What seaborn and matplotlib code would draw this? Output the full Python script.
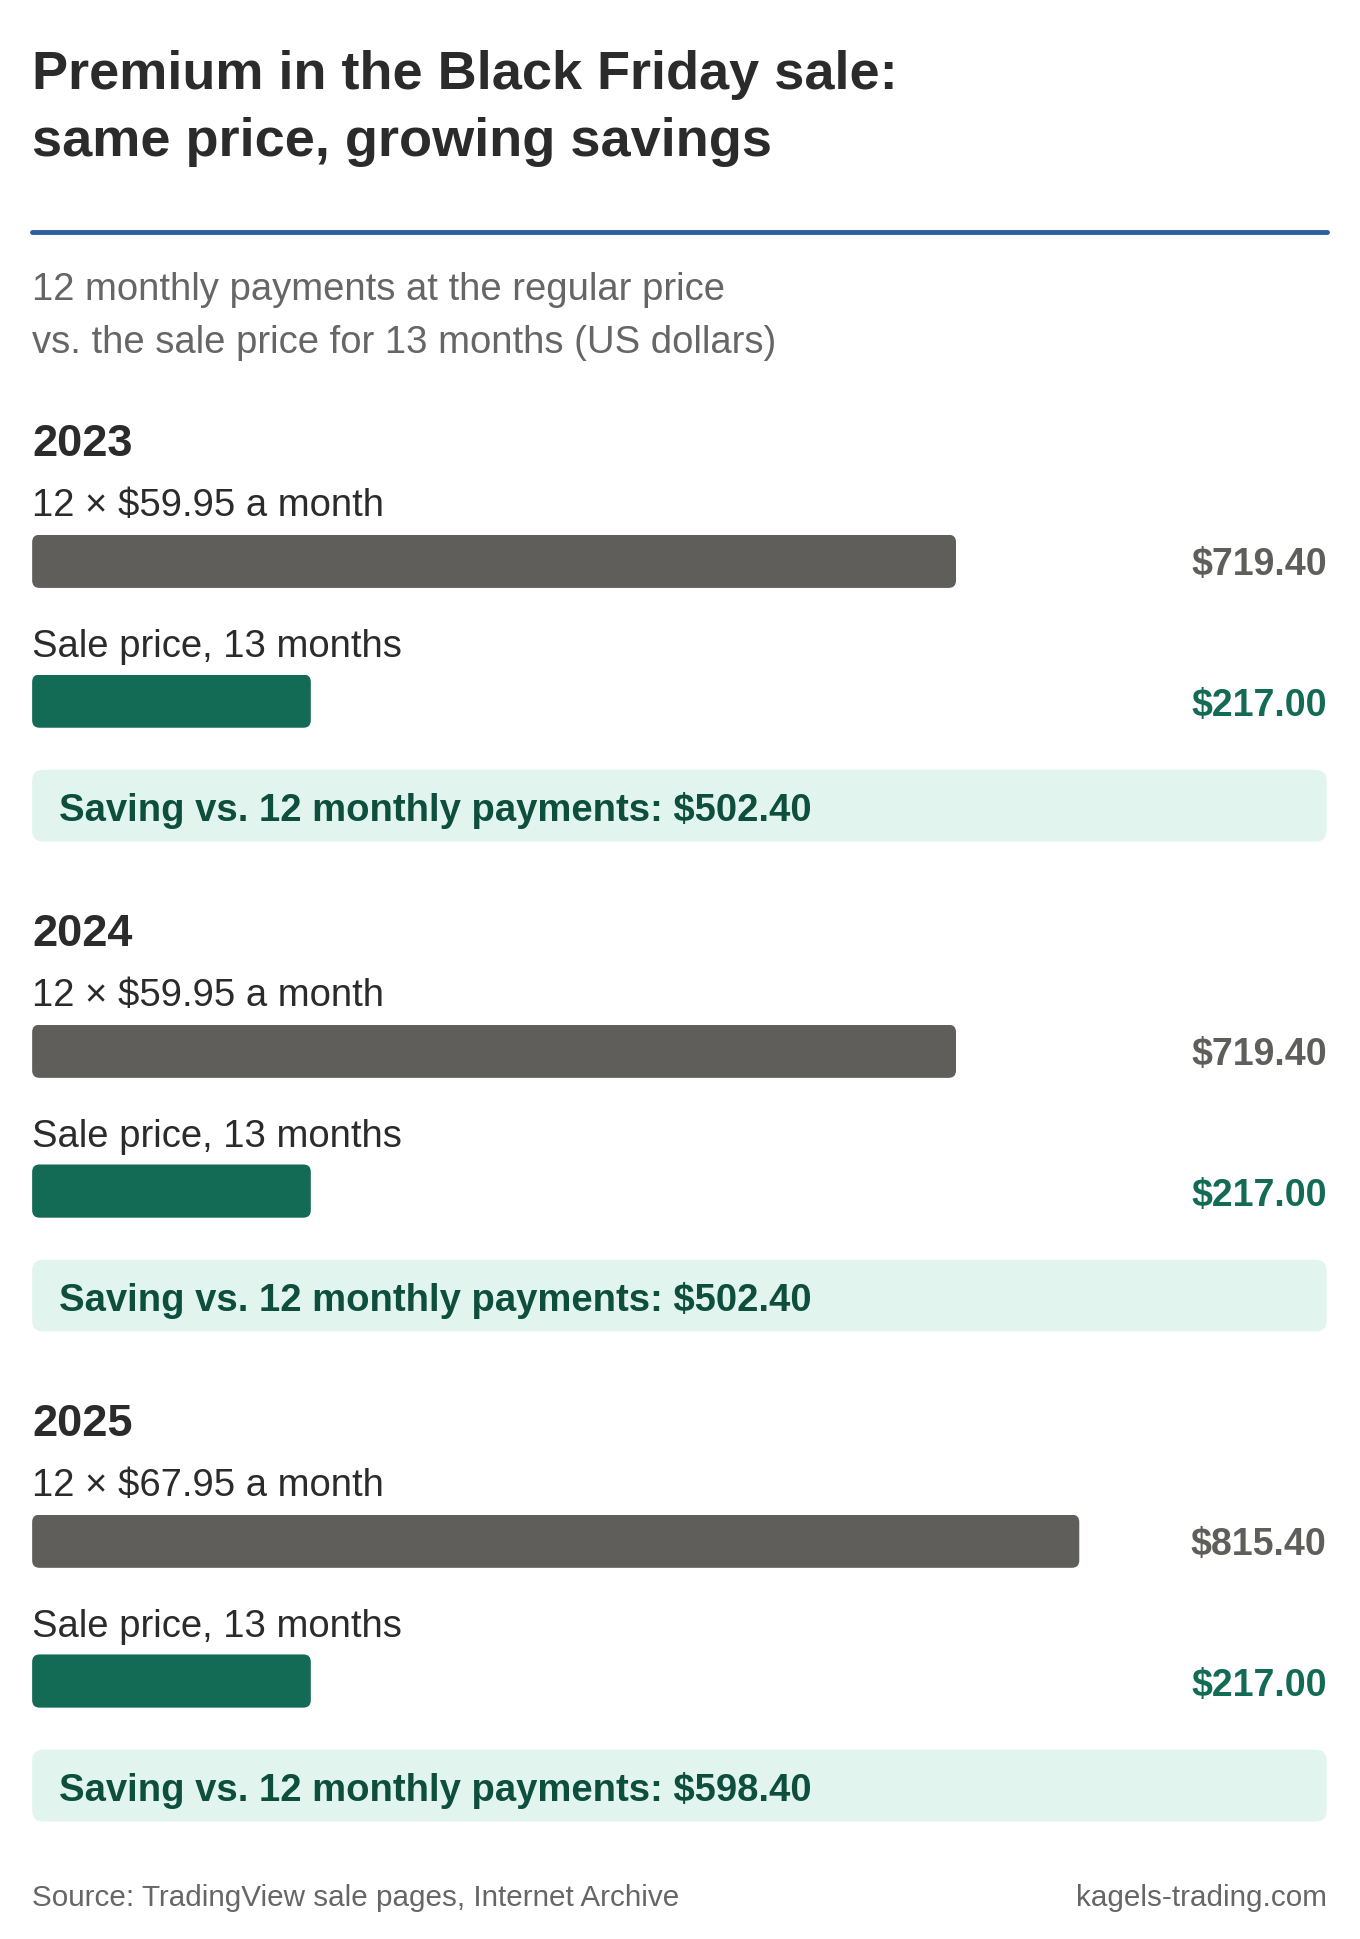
import matplotlib
matplotlib.use("Agg")
import matplotlib.pyplot as plt
import seaborn as sns
import pandas as pd
from matplotlib.patches import FancyBboxPatch

years = ["2023", "2024", "2025"]
monthly_labels = ["12 × $59.95 a month", "12 × $59.95 a month", "12 × $67.95 a month"]
regular_totals = [719.40, 719.40, 815.40]
sale_totals = [217.00, 217.00, 217.00]
savings = [502.40, 502.40, 598.40]

sns.set_theme(style="white")
plt.rcParams['font.family'] = ['Liberation Sans', 'DejaVu Sans']

W, H = 1100.0, 1568.0
fig = plt.figure(figsize=(13.6, 19.4), dpi=100)
fx = lambda x: x / W
fy = lambda y: 1 - y / H
ty = lambda y: fy(y + 3)

DARK = "#2b2b2b"; GRAY_TXT = "#666666"; BAR_GRAY = "#5f5e5a"
GREEN = "#136b55"; SAVE_BG = "#e2f4ee"; SAVE_TXT = "#0d4f3c"; BLUE = "#2a5fa0"

fig.text(fx(26), ty(58), "Premium in the Black Friday sale:", fontsize=39, fontweight="bold", color=DARK, va="center")
fig.text(fx(26), ty(112), "same price, growing savings", fontsize=39, fontweight="bold", color=DARK, va="center")
fig.add_artist(plt.Line2D([fx(26), fx(1073)], [fy(188), fy(188)], color=BLUE, lw=3.5))
fig.text(fx(26), ty(231), "12 monthly payments at the regular price", fontsize=27.5, color=GRAY_TXT, va="center")
fig.text(fx(26), ty(274), "vs. the sale price for 13 months (US dollars)", fontsize=27.5, color=GRAY_TXT, va="center")

XMAX = 1008.0
BAR_H = 43.0

def bar_axes(top, value, color):
    ax = fig.add_axes([fx(26), fy(top + BAR_H), fx(1073) - fx(26), BAR_H / H])
    df = pd.DataFrame({"v": [value], "c": ["a"]})
    sns.barplot(data=df, x="v", y="c", orient="h", color=color, width=1.0, ax=ax, saturation=1)
    ax.set_xlim(0, XMAX); ax.set_ylim(0.5, -0.5)
    ax.axis("off")
    xper = XMAX / 1047.0
    yper = 1.0 / BAR_H
    for p in list(ax.patches):
        x0, y0 = p.get_x(), p.get_y()
        w, h = p.get_width(), p.get_height()
        p.set_visible(False)
        r = 6 * xper
        fb = FancyBboxPatch((x0, y0), w, h, boxstyle=f"round,pad=0,rounding_size={r}",
                            mutation_aspect=yper / xper, facecolor=color, edgecolor="none")
        ax.add_patch(fb)
    return ax

for i, yr in enumerate(years):
    off = i * 396
    fig.text(fx(26), ty(356 + off), yr, fontsize=32.5, fontweight="bold", color=DARK, va="center")
    fig.text(fx(26), ty(406 + off), monthly_labels[i], fontsize=27.5, color=DARK, va="center")
    bar_axes(433 + off, regular_totals[i], BAR_GRAY)
    fig.text(fx(1073), ty(454 + off), f"${regular_totals[i]:,.2f}", fontsize=27,
             fontweight="bold", color=BAR_GRAY, va="center", ha="right")
    fig.text(fx(26), ty(520 + off), "Sale price, 13 months", fontsize=27.5, color=DARK, va="center")
    bar_axes(546 + off, sale_totals[i], GREEN)
    fig.text(fx(1073), ty(568 + off), f"${sale_totals[i]:,.2f}", fontsize=27,
             fontweight="bold", color=GREEN, va="center", ha="right")
    fig.add_artist(FancyBboxPatch((fx(26), fy(681 + off)), fx(1073) - fx(26), 58 / H,
                                  boxstyle="round,pad=0,rounding_size=0.008", mutation_aspect=W / H,
                                  transform=fig.transFigure, facecolor=SAVE_BG, edgecolor="none"))
    fig.text(fx(48), ty(652 + off), f"Saving vs. 12 monthly payments: ${savings[i]:,.2f}", fontsize=27.5,
             fontweight="bold", color=SAVE_TXT, va="center")

fig.text(fx(26), ty(1531), "Source: TradingView sale pages, Internet Archive", fontsize=21.3, color=GRAY_TXT, va="center")
fig.text(fx(1073), ty(1531), "kagels-trading.com", fontsize=21.3, color=GRAY_TXT, va="center", ha="right")

fig.savefig("out.png", dpi=100, facecolor="white")
